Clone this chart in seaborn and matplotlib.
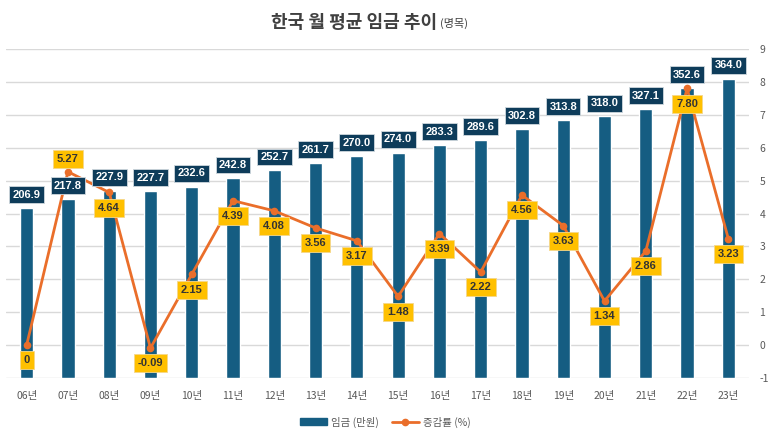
import numpy as np
import pandas as pd
import matplotlib
matplotlib.use('Agg')
import matplotlib.pyplot as plt
import seaborn as sns
from matplotlib.lines import Line2D
from matplotlib.patches import Patch

years = ['06년', '07년', '08년', '09년', '10년', '11년', '12년', '13년', '14년',
         '15년', '16년', '17년', '18년', '19년', '20년', '21년', '22년', '23년']
wage = [206.9, 217.8, 227.9, 227.7, 232.6, 242.8, 252.7, 261.7, 270.0,
        274.0, 283.3, 289.6, 302.8, 313.8, 318.0, 327.1, 352.6, 364.0]
growth = [0, 5.27, 4.64, -0.09, 2.15, 4.39, 4.08, 3.56, 3.17,
          1.48, 3.39, 2.22, 4.56, 3.63, 1.34, 2.86, 7.80, 3.23]
growth_text = ['0', '5.27', '4.64', '-0.09', '2.15', '4.39', '4.08', '3.56', '3.17',
               '1.48', '3.39', '2.22', '4.56', '3.63', '1.34', '2.86', '7.80', '3.23']

sns.set_style('white')
plt.rcParams['font.family'] = ['Noto Sans CJK KR', 'DejaVu Sans']
plt.rcParams['axes.unicode_minus'] = False

bar_color = '#155d82'
box_color = '#0e3c5a'
line_color = '#ea6e2a'
yellow = '#ffc000'
grey = '#595959'
label_font = 'Liberation Sans'

df = pd.DataFrame({'year': years, 'wage': wage, 'growth': growth})
df['pos'] = np.arange(len(years))

fig = plt.figure(figsize=(7.71, 4.37), dpi=100)
ax = fig.add_axes([6 / 771, 59 / 437, 743 / 771, 329 / 437])

sns.barplot(data=df, x='year', y='wage', color=bar_color, width=0.32,
            saturation=1, ax=ax, zorder=2)
ax2 = ax.twinx()

ax.set_ylim(0, 400)
ax.set_yticks(np.arange(0, 401, 40))
ax.yaxis.grid(True, color='#d9d9d9', lw=1)
ax.set_axisbelow(True)
ax.tick_params(axis='y', left=False, right=False, labelleft=False)
ax.tick_params(axis='x', bottom=False, labelsize=7.5, colors=grey, pad=6)
ax.set_xlim(-0.5, len(years) - 0.5)
ax.set_xlabel('')
ax.set_ylabel('')
for s in ax.spines.values():
    s.set_visible(False)

sns.lineplot(data=df, x='pos', y='growth', color=line_color, lw=2, marker='o',
             markersize=5.5, markeredgewidth=0, ax=ax2, zorder=3)
ax2.set_ylim(-1, 9)
ax2.set_yticks(range(-1, 10))
ax2.tick_params(axis='y', left=False, right=False, labelsize=7.5, colors=grey, pad=4)
ax2.set_xlim(-0.5, len(years) - 0.5)
ax2.set_ylabel('')
ax2.set_xlabel('')
for s in ax2.spines.values():
    s.set_visible(False)

# bar labels (drawn on ax2 so they sit over the line)
for i, v in enumerate(wage):
    ax2.annotate(f'{v:.1f}', (i, v), xycoords=ax.transData, xytext=(0, 9.5),
                 textcoords='offset points', ha='center', va='center',
                 color='white', fontsize=8, fontweight='bold', family=label_font,
                 zorder=5,
                 bbox=dict(boxstyle='square,pad=0.3', fc=box_color, ec='#cfd8de', lw=0.6))

for i, (v, t) in enumerate(zip(growth, growth_text)):
    dy = 9 if t == '5.27' else -11
    ax2.annotate(t, (i, v), xytext=(0, dy), textcoords='offset points',
                 ha='center', va='center', color='#333333', fontsize=8,
                 fontweight='bold', family=label_font, zorder=6,
                 bbox=dict(boxstyle='square,pad=0.35', fc=yellow, ec='#f5d78a', lw=0.6))

fig.text(437 / 771, 1 - 22 / 437, '한국 월 평균 임금 추이', ha='right', va='center',
         fontsize=13, fontweight='bold', color='#404040')
fig.text(440 / 771, 1 - 23 / 437, '(명목)', ha='left', va='center',
         fontsize=8, color='#404040')

handles = [Patch(color=bar_color, label='임금 (만원)'),
           Line2D([0], [0], color=line_color, lw=2, marker='o', markersize=4.5,
                  label='증감률 (%)')]
fig.legend(handles=handles, loc='center', bbox_to_anchor=(0.5, 1 - 422 / 437),
           ncol=2, frameon=False, fontsize=7.5, handlelength=2.6,
           columnspacing=1.2, handletextpad=0.4, labelcolor=grey)

fig.savefig('out.png', dpi=100)
